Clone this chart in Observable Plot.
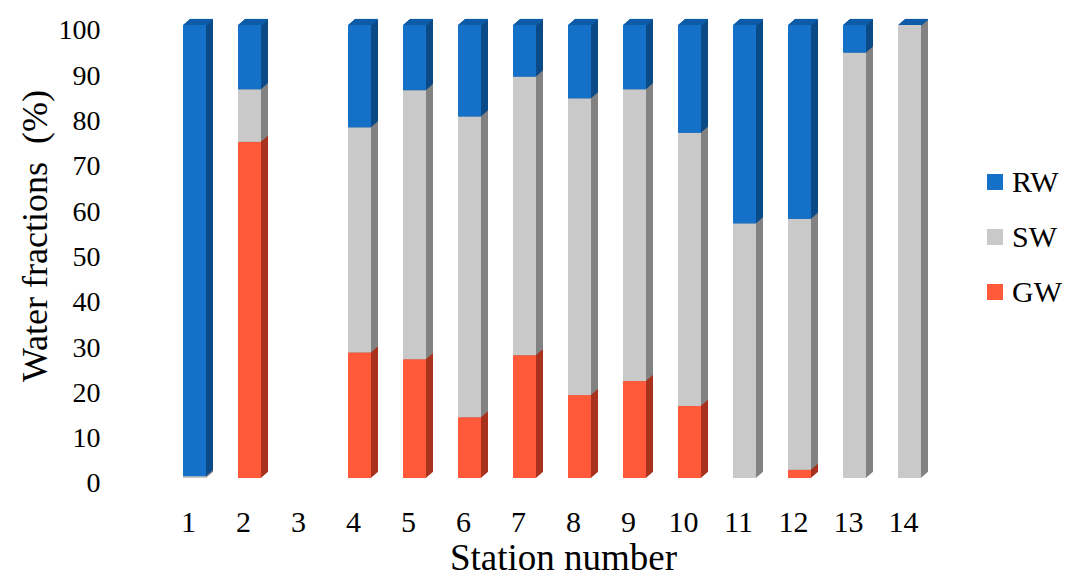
<!DOCTYPE html>
<html>
<head>
<meta charset="utf-8">
<script src="https://cdn.jsdelivr.net/npm/d3@7"></script>
<script src="https://cdn.jsdelivr.net/npm/@observablehq/plot@0.6"></script>
<style>
  body { margin: 0; background: #fff; }
  #wrap { position: relative; width: 1071px; height: 575px; font-family: "Liberation Serif", "Times New Roman", serif; }
  #legend { position: absolute; left: 987px; top: 0; }
  .li { position: absolute; left: 0; display: flex; align-items: center; white-space: nowrap; font-size: 30px; color: #000; }
  .sw { width: 16px; height: 16px; margin-right: 9px; }
</style>
</head>
<body>
<div id="wrap"><div id="legend"></div></div>
<script>
const stations = [1, 2, 3, 4, 5, 6, 7, 8, 9, 10, 11, 12, 13, 14];
const GW = [0, 74.2, 0, 27.7, 26.2, 13.4, 27.1, 18.3, 21.4, 15.9, 0, 1.8, 0, 0];
const SW = [0.4, 11.6, 0, 49.7, 59.4, 66.4, 61.5, 65.5, 64.4, 60.3, 56.2, 55.4, 93.9, 100];
const RW = [99.6, 14.2, 0, 22.6, 14.4, 20.2, 11.4, 16.2, 14.2, 23.8, 43.8, 42.8, 6.1, 0];
const yTicks = [0, 10, 20, 30, 40, 50, 60, 70, 80, 90, 100];
const seriesNames = ["GW", "SW", "RW"];
const legendOrder = ["RW", "SW", "GW"];
const front = {GW: "#ff5939", SW: "#c9c9c9", RW: "#1571c8"};
const side = {GW: "#a8331f", SW: "#828282", RW: "#0a4a87"};
const topColor = "#0f5ca8";

const values = {GW, SW, RW};
const rows = stations.map((s, i) => ({station: String(s), total: GW[i] + SW[i] + RW[i]}));
const segs = {};
seriesNames.forEach(name => { segs[name] = []; });
stations.forEach((s, i) => {
  let base = 0;
  seriesNames.forEach(name => {
    const v = values[name][i];
    segs[name].push({station: String(s), y1: base, y2: base + v});
    base += v;
  });
});

const depthX = 7, depthY = 6;
const steps = d3.range(depthX, 0, -0.5);
const marks = [];
// side faces (extruded copies)
for (const k of steps) {
  for (const name of seriesNames) {
    marks.push(Plot.barY(segs[name], {x: "station", y1: "y1", y2: "y2", fill: side[name], inset: 0, dx: k, dy: -k * depthY / depthX}));
  }
}
// top faces
const topped = rows.filter(d => d.total > 0);
for (const k of steps) {
  marks.push(Plot.tickY(topped, {x: "station", y: "total", stroke: topColor, strokeWidth: 1.2, dx: k, dy: -k * depthY / depthX}));
}
// front faces
for (const name of seriesNames) {
  marks.push(Plot.barY(segs[name], {x: "station", y1: "y1", y2: "y2", fill: front[name], inset: 0}));
}
marks.push(Plot.axisY({ticks: yTicks, tickSize: 0, tickPadding: 51, fontSize: 28, dy: 5, label: null}));
marks.push(Plot.axisX({tickSize: 0, tickPadding: 32, fontSize: 30, dx: -6.5, label: null}));
marks.push(Plot.text(["Water fractions\u00a0\u00a0(%)"], {frameAnchor: "left", textAnchor: "middle", lineAnchor: "middle", dx: -116, dy: -16, rotate: -90, fontSize: 36, fill: "#000"}));
marks.push(Plot.text(["Station number"], {frameAnchor: "bottom", textAnchor: "middle", lineAnchor: "middle", dx: 11, dy: 80, fontSize: 37, fill: "#000"}));

const chart = Plot.plot({
  width: 1071,
  height: 575,
  marginLeft: 151,
  marginRight: 118,
  marginTop: 25,
  marginBottom: 97,
  style: {fontFamily: "'Liberation Serif', 'Times New Roman', serif", color: "#000", background: "#fff", overflow: "visible"},
  x: {type: "band", domain: stations.map(String), paddingInner: 0.5818, paddingOuter: 0.5818, align: 0.5},
  y: {domain: [0, 100]},
  marks
});
document.getElementById("wrap").prepend(chart);

const legend = document.getElementById("legend");
const legendY = {RW: 182, SW: 237, GW: 292};
legendOrder.forEach(name => {
  const item = document.createElement("div");
  item.className = "li";
  item.style.top = (legendY[name] - 18) + "px";
  item.style.height = "36px";
  const sw = document.createElement("div");
  sw.className = "sw";
  sw.style.background = front[name];
  item.appendChild(sw);
  const t = document.createElement("span");
  t.textContent = name;
  item.appendChild(t);
  legend.appendChild(item);
});
</script>
</body>
</html>
